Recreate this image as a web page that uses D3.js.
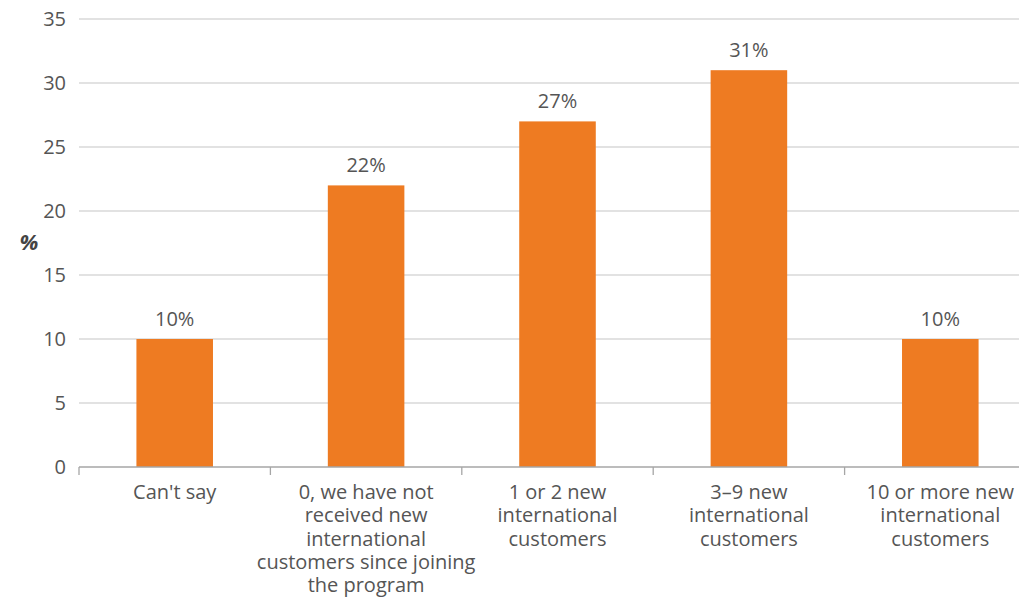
<!DOCTYPE html>
<html><head><meta charset="utf-8">
<script src="https://cdn.jsdelivr.net/npm/d3@7"></script>
<style>
html,body{margin:0;padding:0;background:#fff;}
svg text{font-family:"Open Sans","Noto Sans",sans-serif;}
</style></head>
<body><svg id="c" width="1019" height="598"></svg>
<script>
const categories = [
  ["Can't say"],
  ["0, we have not", "received new", "international", "customers since joining", "the program"],
  ["1 or 2 new", "international", "customers"],
  ["3\u20139 new", "international", "customers"],
  ["10 or more new", "international", "customers"]
];
const values = [10, 22, 27, 31, 10];
const valueLabels = ["10%", "22%", "27%", "31%", "10%"];
const yTicks = [0, 5, 10, 15, 20, 25, 30, 35];
const yTitle = "%";

(function () {
const svg = d3.select("#c");
const mLeft = 79, mRight = 1036, mTop = 19, mBottom = 467;
const fs = 20;
const idx = d3.range(values.length);
const x = d3.scaleBand().domain(idx).range([mLeft, mRight]).paddingInner(0.6).paddingOuter(0.3);
const step = x.step();
const y = d3.scaleLinear().domain([0, 35]).range([mBottom, mTop]);

svg.append("g").selectAll("line").data(yTicks.filter(d => d > 0)).join("line")
  .attr("x1", mLeft).attr("x2", 1019)
  .attr("y1", d => y(d)).attr("y2", d => y(d))
  .attr("stroke", "#d9d9d9").attr("stroke-width", 1.3);

svg.append("g").selectAll("text").data(yTicks).join("text")
  .attr("x", 66).attr("y", d => y(d)).attr("dy", "0.35em")
  .attr("text-anchor", "end").attr("font-size", fs).attr("fill", "#555")
  .text(d => d);

svg.append("text").attr("x", 29).attr("y", 242).attr("dy", "0.35em")
  .attr("text-anchor", "middle").attr("font-size", 22).attr("font-weight", "bold")
  .attr("font-style", "italic").attr("fill", "#444").text(yTitle);

svg.append("g").selectAll("rect").data(idx).join("rect")
  .attr("x", i => x(i)).attr("width", x.bandwidth())
  .attr("y", i => y(values[i])).attr("height", i => y(0) - y(values[i]))
  .attr("fill", "#EE7B22");

svg.append("g").selectAll("text").data(idx).join("text")
  .attr("x", i => x(i) + x.bandwidth() / 2).attr("y", i => y(values[i]) - 13)
  .attr("text-anchor", "middle").attr("font-size", fs).attr("fill", "#555")
  .text(i => valueLabels[i]);

svg.append("line").attr("x1", mLeft).attr("x2", 1019).attr("y1", mBottom).attr("y2", mBottom)
  .attr("stroke", "#a6a6a6").attr("stroke-width", 1.3);
svg.append("g").selectAll("line").data(idx).join("line")
  .attr("x1", i => mLeft + i * step).attr("x2", i => mLeft + i * step)
  .attr("y1", mBottom).attr("y2", mBottom + 8)
  .attr("stroke", "#a6a6a6").attr("stroke-width", 1.3);

const lab = svg.append("g").selectAll("text").data(idx).join("text")
  .attr("text-anchor", "middle").attr("font-size", fs).attr("fill", "#555")
  .attr("transform", i => `translate(${x(i) + x.bandwidth() / 2},${mBottom})`);
lab.selectAll("tspan").data(i => categories[i]).join("tspan")
  .attr("x", 0).attr("y", (d, j) => 32 + j * 23.3).text(d => d);
})();
</script></body></html>
